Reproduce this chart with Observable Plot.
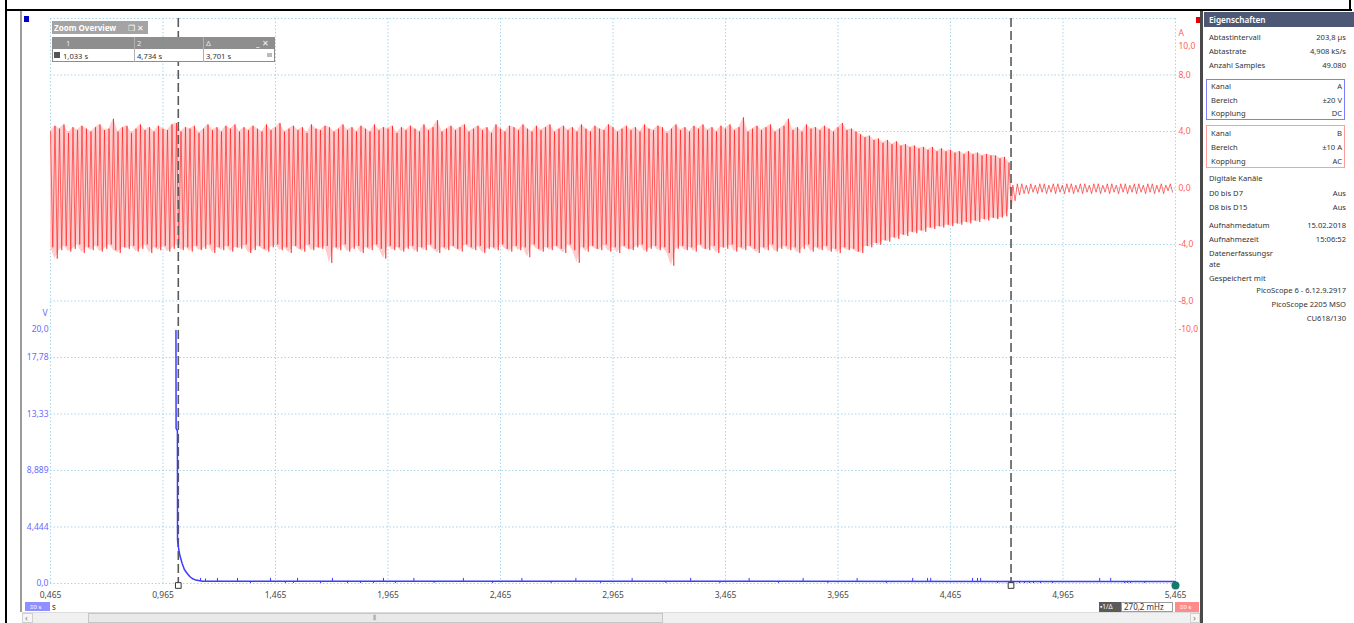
<!DOCTYPE html>
<html><head><meta charset="utf-8">
<script src="https://cdn.jsdelivr.net/npm/d3@7"></script>
<script src="https://cdn.jsdelivr.net/npm/@observablehq/plot@0.6"></script>
<style>
body{margin:0;background:#fff;font-family:"Noto Sans",sans-serif;}
#wrap{position:relative;width:1354px;height:623px;overflow:hidden;background:#fff;}
.a{position:absolute;}
.t{position:absolute;font-size:7.6px;line-height:12px;color:#333;white-space:nowrap;}
.r{text-align:right;}
</style></head><body><div id="wrap"></div>
<script>
// ---- axis / tick data ----
const xTicks = [0.465,0.965,1.465,1.965,2.465,2.965,3.465,3.965,4.465,4.965,5.465];
const xTickLabels = ["0,465","0,965","1,465","1,965","2,465","2,965","3,465","3,965","4,465","4,965","5,465"];
const redTicks = [10,8,4,0,-4,-8,-10];
const redTickLabels = ["10,0","8,0","4,0","0,0","-4,0","-8,0","-10,0"];
const redGrid = [12,8,4,0,-4,-8,-12,-16,-20,-24,-28];
const blueTicks = [20,17.78,13.33,8.889,4.444,0];
const blueTickLabels = ["20,0","17,78","13,33","8,889","4,444","0,0"];
const cursorTimes = [1.033, 4.734];
const cursorLabels = ["1,033 s","4,734 s","3,701 s"];

// ---- channel B (current, A): per-cycle positive and negative peaks ----
const startTime = 0.465, cyclePeriod = 0.02, tailStart = 4.742;
const redHigh = [
 4.0,4.4,4.2,4.5,3.9,4.3,4.1,4.4,4.2,4.0, 4.3,4.5,4.1,4.2,4.9,4.0,4.3,4.4,3.9,4.2,
 4.5,4.1,4.3,4.0,4.4,4.2,4.1,4.5,4.6,4.0, 4.3,4.2,4.4,3.9,4.2,4.5,4.1,4.3,4.0,4.4,
 4.2,4.5,4.0,4.3,4.1,4.4,4.2,4.0,4.5,4.1, 4.3,4.6,4.0,4.2,4.4,4.1,4.3,3.9,4.5,4.2,
 4.1,4.4,4.3,4.0,4.2,4.5,4.1,4.3,4.0,4.4, 4.2,4.0,4.5,4.1,4.3,4.2,4.4,3.9,4.3,4.1,
 4.4,4.2,4.0,4.5,4.1,4.3,4.8,4.0,4.2,4.4, 4.1,4.3,4.5,4.0,4.2,4.4,4.1,4.3,3.9,4.5,
 4.2,4.0,4.4,4.3,4.1,4.5,4.2,4.0,4.4,4.1, 4.3,4.5,4.0,4.2,4.4,4.1,4.3,4.0,4.5,4.2,
 4.0,4.4,4.2,4.1,4.5,4.3,4.0,4.2,4.4,4.1, 4.3,4.0,4.5,4.2,4.1,4.4,4.3,3.9,4.2,4.5,
 4.1,4.3,4.0,4.4,4.2,4.5,4.1,4.3,4.0,4.4, 4.2,4.5,4.1,4.3,5.0,4.0,4.2,4.4,4.1,4.3,
 4.5,4.0,4.2,4.4,4.9,4.1,4.3,4.0,4.5,4.2, 4.3,4.1,4.4,4.2,4.0,4.3,4.6,4.1,4.2,4.0,
 3.8,3.6,3.7,3.4,3.5,3.2,3.4,3.1,3.3,3.0, 3.1,2.9,3.0,2.8,2.9,2.7,2.9,2.6,2.8,2.6,
 2.7,2.5,2.6,2.4,2.6,2.4,2.5,2.3,2.4,2.3, 2.3,2.1,2.2,1.8];
const redLow = [
 -4.2,-5.0,-4.4,-4.1,-4.5,-4.3,-4.0,-4.6,-4.2,-4.4, -4.1,-4.5,-4.3,-4.0,-4.4,-4.6,-4.2,-4.3,-4.1,-4.5,
 -4.3,-4.0,-4.6,-4.2,-4.4,-4.1,-4.5,-4.3,-4.0,-4.4, -4.2,-4.5,-4.1,-4.4,-4.3,-4.0,-4.6,-4.2,-4.4,-4.1,
 -4.5,-4.2,-4.3,-4.0,-4.6,-4.4,-4.1,-4.3,-4.5,-4.2, -4.0,-4.4,-4.2,-4.6,-4.1,-4.3,-4.5,-4.0,-4.4,-4.2,
 -4.3,-4.1,-5.3,-4.2,-4.4,-4.0,-4.5,-4.3,-4.1,-4.6, -4.2,-4.4,-4.0,-4.3,-5.0,-4.1,-4.4,-4.2,-4.5,-4.3,
 -4.1,-4.5,-4.2,-4.4,-4.0,-4.3,-4.6,-4.2,-4.4,-4.1, -4.3,-4.5,-4.0,-4.2,-4.4,-4.1,-4.6,-4.3,-4.2,-4.4,
 -4.0,-4.3,-4.5,-4.1,-4.4,-4.2,-4.9,-4.0,-4.3,-4.5, -4.2,-4.4,-4.1,-4.3,-4.6,-4.0,-4.4,-5.3,-4.2,-4.5,
 -4.1,-4.3,-4.4,-4.0,-4.5,-4.2,-4.6,-4.1,-4.3,-4.4, -4.2,-4.0,-4.5,-4.3,-4.1,-4.4,-4.2,-4.6,-5.5,-4.3,
 -4.1,-4.4,-4.2,-4.5,-4.0,-4.3,-4.4,-4.1,-4.6,-4.2, -4.3,-4.0,-4.5,-4.2,-4.4,-4.1,-4.3,-4.6,-4.2,-4.4,
 -4.0,-4.5,-4.3,-4.1,-4.4,-4.2,-4.6,-4.3,-4.0,-4.5, -4.2,-4.4,-4.1,-4.5,-4.3,-4.6,-4.2,-4.4,-4.3,-4.5,
 -4.6,-4.1,-4.2,-3.9,-4.0,-3.7,-3.8,-3.5,-3.6,-3.3, -3.4,-3.1,-3.2,-3.0,-3.1,-2.8,-2.9,-2.7,-2.8,-2.6,
 -2.7,-2.5,-2.6,-2.4,-2.5,-2.3,-2.4,-2.2,-2.3,-2.1, -2.2,-2.1,-2.0,-1.5];
// small residual oscillation after cursor 2 (alternating peaks, A)
const redTail = [
 0.2,-0.9,0.3,-0.5,0.3,-0.4,0.2,-0.4,0.3,-0.3, 0.2,-0.4,0.3,-0.3,0.3,-0.4,0.2,-0.3,0.3,-0.4,
 0.3,-0.3,0.2,-0.4,0.3,-0.3,0.3,-0.4,0.2,-0.3, 0.3,-0.4,0.3,-0.3,0.2,-0.4,0.3,-0.3,0.3,-0.4,
 0.2,-0.3,0.3,-0.4,0.3,-0.3,0.2,-0.4,0.3,-0.3, 0.3,-0.4,0.2,-0.3,0.3,-0.4,0.3,-0.3,0.2,-0.4,
 0.3,-0.3,0.3,-0.4,0.2,-0.3,0.3,-0.4,0.2,-0.2,0.3,-0.3];

// ---- channel A (voltage, V) ----
const blueT = [1.0226,1.0232,1.0290,1.0296,1.0340,1.0400,1.0503,1.0600,1.0726,1.0840,1.0948,1.1060,1.1170,1.1400,5.465];
const blueV = [19.9,12.2,12.0,3.4,2.8,2.2,1.57,1.1,0.79,0.55,0.39,0.30,0.26,0.18,0.16];
const blueBase = 0.16;
const blipT = [1.132,1.154,1.207,1.296,1.354,1.443,1.509,1.545,1.563,1.665,1.718,1.785,1.843,1.901,1.945,1.998,
  2.08,2.17,2.30,2.43,2.56,2.69,2.80,2.91,3.05,3.20,3.31,3.44,3.57,3.70,3.81,3.92,4.05,4.18,
  4.297,4.363,4.377,4.563,4.585,4.599,4.674,4.741,4.772,4.794,4.816,4.834,4.865,4.919,5.128,5.177,5.239,5.252,5.265,5.328];
const blipV = [0.4,0.35,0.4,0.4,0.0,0.4,0.0,0.0,0.4,0.0,0.4,0.0,0.0,0.0,0.4,0.0,
  0.4,0.0,0.4,0.0,0.4,0.0,0.4,0.0,0.4,0.0,0.4,0.0,0.4,0.0,0.4,0.0,0.4,0.0,
  0.4,0.4,0.4,0.4,0.4,0.4,0.0,0.0,0.0,0.0,0.0,0.0,0.0,0.0,0.4,0.4,0.0,0.0,0.0,0.0];

// ---- properties panel text ----
const sampleInfo = [["Abtastintervall","203,8 µs"],["Abtastrate","4,908 kS/s"],["Anzahl Samples","49.080"]];
const channelA = [["Kanal","A"],["Bereich","±20 V"],["Kopplung","DC"]];
const channelB = [["Kanal","B"],["Bereich","±10 A"],["Kopplung","AC"]];
const digitalInfo = [["Digitale Kanäle",""],["D0 bis D7","Aus"],["D8 bis D15","Aus"]];
const captureInfo = [["Aufnahmedatum","15.02.2018"],["Aufnahmezeit","15:06:52"],["Datenerfassungsr",""],["ate",""],["Gespeichert mit",""]];
const savedWith = ["PicoScope 6 - 6.12.9.2917","PicoScope 2205 MSO","CU618/130"];

// ---------------- build ----------------
const wrap = document.getElementById("wrap");
const lbl = (ticks, labels) => d => { const i = ticks.findIndex(v => Math.abs(v - d) < 1e-6); return i < 0 ? "" : labels[i]; };

const redPts = [], env = [];
redHigh.forEach((h, i) => {
  const t1 = startTime + i * cyclePeriod, t2 = startTime + (i + 0.5) * cyclePeriod;
  redPts.push({t: t1, a: h}); redPts.push({t: t2, a: redLow[i]});
  env.push({t: t1, hi: h, lo: redLow[i]});
});
redTail.forEach((v, i) => redPts.push({t: tailStart + i * cyclePeriod / 2, a: v}));
const bluePts = blueT.map((t, i) => ({t, v: blueV[i]}));
const blips = blipT.map((t, i) => ({t, v: blipV[i]}));

const common = {
  width: 1354, height: 623, marginLeft: 50, marginRight: 179, marginTop: 18, marginBottom: 40,
  style: {position: "absolute", left: "0px", top: "0px", background: "transparent", fontFamily: "Noto Sans, sans-serif", fontSize: "8px", overflow: "visible"}
};

const redPlot = Plot.plot({
  ...common,
  x: {domain: [0.465, 5.465]},
  y: {domain: [-28, 12]},
  marks: [
    Plot.gridX({ticks: xTicks, stroke: "#a8d5ea", strokeOpacity: 1, strokeDasharray: "1.5,2"}),
    Plot.gridY({ticks: redGrid, stroke: "#a8d5ea", strokeOpacity: 1, strokeDasharray: "1.5,2"}),
    Plot.axisX({ticks: xTicks, tickFormat: lbl(xTicks, xTickLabels), tickSize: 0, tickPadding: 8, color: "#4a4a4a", fontSize: 8.5, label: null}),
    Plot.axisY({anchor: "right", ticks: redTicks, tickFormat: lbl(redTicks, redTickLabels), tickSize: 0, tickPadding: 3, color: "#ff5c5c", fontSize: 8.5, label: null}),
    Plot.areaY(env, {x: "t", y1: "lo", y2: "hi", fill: "#ffcdcd", curve: "linear"}),
    Plot.line(redPts, {x: "t", y: "a", stroke: "#ff1010", strokeWidth: 0.75, strokeOpacity: 0.8}),
    Plot.ruleX(cursorTimes, {stroke: "#5a5a5a", strokeWidth: 1.6, strokeDasharray: "9,4"}),
    Plot.text(["A"], {text: d => d, frameAnchor: "top-right", dx: 3, dy: 11, textAnchor: "start", fill: "#ff5c5c", fontSize: 8.5})
  ]
});
wrap.appendChild(redPlot);

const bluePlot = Plot.plot({
  ...common,
  x: {domain: [0.465, 5.465], axis: null},
  y: {domain: [0, 44.44]},
  marks: [
    Plot.axisY({anchor: "left", ticks: blueTicks, tickFormat: lbl(blueTicks, blueTickLabels), tickSize: 0, tickPadding: 2, color: "#6a6aff", fontSize: 8.5, label: null}),
    Plot.ruleX(blips, {x: "t", y1: blueBase, y2: "v", stroke: "#3c3cff", strokeWidth: 1}),
    Plot.line(bluePts, {x: "t", y: "v", stroke: "#3c3cff", strokeWidth: 1.5}),
    Plot.dot(cursorTimes, {x: d => d, frameAnchor: "bottom", symbol: "square", r: 3.2, fill: "white", stroke: "#333", strokeWidth: 1, dy: 2}),
    Plot.dot([5.465], {x: d => d, frameAnchor: "bottom", r: 4, fill: "#157a6e", dy: 2}),
    Plot.text(["V"], {text: d => d, frameAnchor: "left", dx: -3, dy: 12.5, textAnchor: "end", fill: "#6a6aff", fontSize: 8.5})
  ]
});
wrap.appendChild(bluePlot);

// ---------------- UI chrome (HTML) ----------------
function box(l, t, w, h, css = "") { const d = document.createElement("div"); d.className = "a"; d.style.cssText = `left:${l}px;top:${t}px;width:${w}px;height:${h}px;${css}`; wrap.appendChild(d); return d; }
function txt(s, l, y, css = "", right = false) {
  const d = document.createElement("div"); d.className = "t" + (right ? " r" : ""); d.textContent = s;
  d.style.cssText = right ? `right:${1354 - l}px;top:${y - 6}px;${css}` : `left:${l}px;top:${y - 6}px;${css}`;
  wrap.appendChild(d); return d;
}
// page borders
box(5, 0, 2, 623, "background:#000");
box(5, 9, 1347, 2, "background:#000");
box(1349, 0, 2, 11, "background:#000");
// plot frame left border
box(20, 11, 2, 601, "background:#9c9c9c");
// channel markers
box(24, 16, 5, 6, "background:#0000c8");
box(1196, 17, 5, 6, "background:#e00000");
// panel separator + panel
box(1200, 11, 3, 612, "background:#4a4a4a");
box(1204, 12, 150, 15, "background:#4c5875");
txt("Eigenschaften", 1209, 19.5, "color:#fff;font-size:8.2px;font-weight:600");
const rows = (arr, ys, lx, rx) => arr.forEach(([a, b], i) => { txt(a, lx, ys[i]); if (b) txt(b, rx, ys[i], "", true); });
rows(sampleInfo, [37, 51, 65], 1209, 1346);
box(1206, 79, 139, 41, "border:1px solid #7d7dff;box-sizing:border-box");
rows(channelA, [86, 100, 113], 1211, 1342);
box(1206, 125, 139, 43, "border:1px solid #ff9c9c;box-sizing:border-box");
rows(channelB, [133, 147, 161], 1211, 1342);
rows(digitalInfo, [178, 193, 207], 1209, 1346);
rows(captureInfo, [225, 239, 253, 264, 278], 1209, 1346);
savedWith.forEach((s, i) => txt(s, 1346, [290, 304, 318][i], "", true));

// zoom overview widget
box(52, 21, 96, 13, "background:#a4a4a4");
txt("Zoom Overview", 54, 27.5, "color:#fff;font-weight:700;font-size:8px");
txt("❐ ✕", 128, 27.5, "color:#fff;font-size:8px");
box(52, 37, 223, 25, "background:#fff;border:1px solid #8c8c8c;box-sizing:border-box");
box(52, 37, 223, 12, "background:#8e8e8e");
box(134, 37, 1, 25, "background:#b0b0b0");
box(203, 37, 1, 25, "background:#b0b0b0");
txt("1", 66, 43, "color:#e8e8e8");
txt("2", 137, 43, "color:#e8e8e8");
txt("Δ", 206, 43, "color:#e8e8e8");
txt("_  ✕", 256, 43, "color:#f4f4f4;font-size:8px");
box(54, 52, 6, 6, "background:#555");
txt(cursorLabels[0], 63, 55.5);
txt(cursorLabels[1], 137, 55.5);
txt(cursorLabels[2], 206, 55.5);
box(267, 53, 5, 4, "background:#bbb");

// bottom bar items
box(25, 602, 25, 9, "background:#8f8fff");
txt("≡0 s", 30, 606.5, "color:#fff;font-size:6px");
txt("s", 52, 606.5, "color:#333;font-size:8px");
box(1099, 602, 22, 10, "background:#5a5a5a");
txt("▪1/Δ", 1100, 607, "color:#fff;font-size:6.5px");
box(1121, 602, 52, 10, "background:#fff;border:1px solid #9a9a9a;box-sizing:border-box");
txt("270,2 mHz", 1124, 607, "color:#333;font-size:8px");
box(1175, 602, 24, 10, "background:#ff8a8a");
txt("≡0 s", 1180, 607, "color:#fff;font-size:6px");

// scrollbar
box(22, 612, 1178, 11, "background:#f0f0f0;border-top:1px solid #dcdcdc;box-sizing:border-box");
box(22, 613, 11, 10, "background:#f6f6f6;border:1px solid #d0d0d0;box-sizing:border-box");
txt("‹", 25, 617.5, "color:#777;font-size:9px");
box(88, 613, 575, 10, "background:#e9e9e9;border:1px solid #c6c6c6;box-sizing:border-box");
txt("⦀", 373, 617.5, "color:#888;font-size:7px");
box(1190, 613, 10, 10, "background:#f6f6f6;border:1px solid #d0d0d0;box-sizing:border-box");
txt("›", 1193, 617.5, "color:#777;font-size:9px");
</script></body></html>
